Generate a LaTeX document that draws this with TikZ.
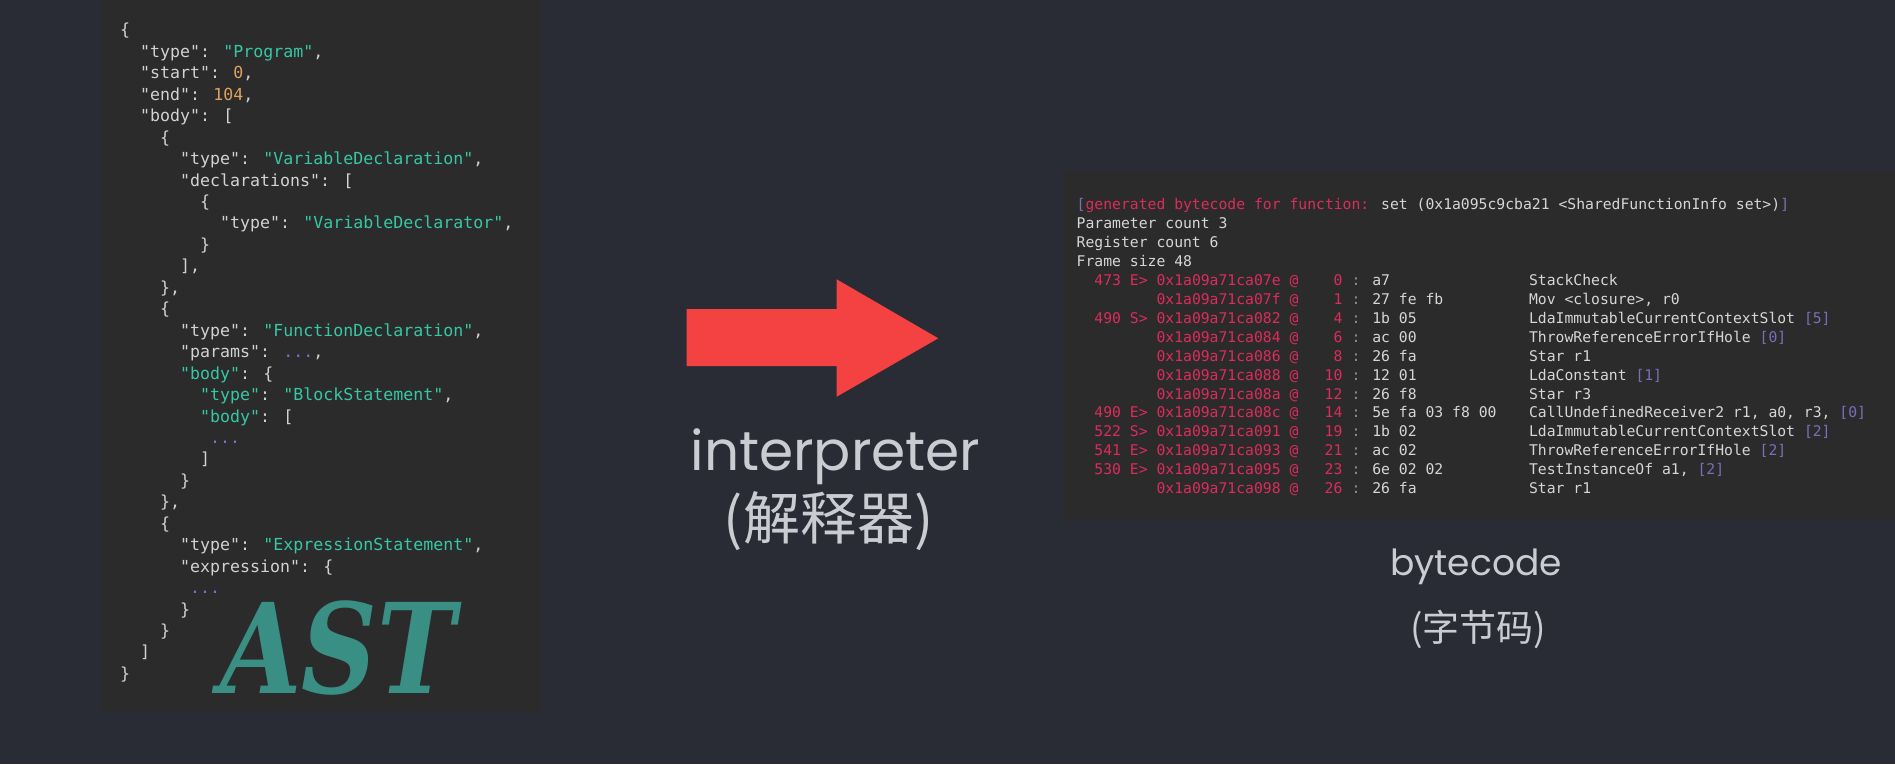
\documentclass[tikz,border=0pt]{standalone}
\usepackage{fontspec}
\usepackage{xcolor}
\usepackage{tikz}
\newfontfamily\codefont{DejaVu Sans Mono}
\newfontfamily\labelfont{Poppins}
\newfontfamily\cjkfont{Noto Sans CJK SC}
\newfontfamily\astfont{DejaVu Serif}
\definecolor{bg}{HTML}{292C35}
\definecolor{panel}{HTML}{2B2B2C}
\definecolor{keycol}{HTML}{D2D2D2}
\definecolor{strcol}{HTML}{36C8A4}
\definecolor{numcol}{HTML}{DDA35E}
\definecolor{dotcol}{HTML}{7E6FCF}
\definecolor{astcol}{HTML}{3A8F85}
\definecolor{bcred}{HTML}{DC2C5C}
\definecolor{bctext}{HTML}{D6D6D6}
\definecolor{bcop}{HTML}{7C6DB8}
\definecolor{bccolon}{HTML}{8A8FA6}
\definecolor{arrowred}{HTML}{F44242}
\definecolor{lblcol}{HTML}{C9CCD1}
\newcommand{\jstr}[1]{\textcolor{strcol}{#1}}
\newcommand{\jnum}[1]{\textcolor{numcol}{#1}}
\newcommand{\jdot}[1]{\textcolor{dotcol}{#1}}
\newcommand{\bred}[1]{\textcolor{bcred}{#1}}
\newcommand{\bop}[1]{\textcolor{bcop}{#1}}
\newcommand{\bcolon}{\textcolor{bccolon}{:}}
\tikzset{
  ast/.style={anchor=base west, inner sep=0pt, text=keycol, font=\codefont\fontsize{16.6}{20}\selectfont},
  bc/.style={anchor=base west, inner sep=0pt, text=bctext, font=\codefont\fontsize{14.73}{18}\selectfont},
  astbig/.style={anchor=base west, inner sep=0pt, text=astcol, font=\astfont\bfseries\itshape\fontsize{125}{125}\selectfont},
  lbl/.style={anchor=base, inner sep=0pt, text=lblcol},
  bigarrow/.style={fill=arrowred}
}
\begin{document}
\begin{tikzpicture}[x=1pt,y=-1pt]
\fill[bg] (0,0) rectangle (1895,764);
\useasboundingbox (0,0) rectangle (1895,764);
\fill[panel] (102,0) rectangle (541,712);
\fill[panel] (1063,170) rectangle (1895,520);
% AST
\foreach \row/\col/\txt in {1/0/{\{}, 2/2/{"type": \jstr{"Program"},}, 3/2/{"start": \jnum{0},},
  4/2/{"end": \jnum{104},}, 5/2/{"body": [}, 6/4/{\{}, 7/6/{"type": \jstr{"VariableDeclaration"},},
  8/6/{"declarations": [}, 9/8/{\{}, 10/10/{"type": \jstr{"VariableDeclarator"},}, 11/8/{\}},
  12/6/{],}, 13/4/{\},}, 14/4/{\{}, 15/6/{"type": \jstr{"FunctionDeclaration"},},
  16/6/{"params": \jdot{...},}, 17/6/{\jstr{"body"}: \{}, 18/8/{\jstr{"type"}: \jstr{"BlockStatement"},},
  19/8/{\jstr{"body"}: [}, 20/9/{\jdot{...}}, 21/8/{]}, 22/6/{\}}, 23/4/{\},}, 24/4/{\{},
  25/6/{"type": \jstr{"ExpressionStatement"},}, 26/6/{"expression": \{}, 27/7/{\jdot{...}},
  28/6/{\}}, 29/4/{\}}, 30/2/{]}, 31/0/{\}}}
  \node[ast] (ast\row) at ({120+10*\col},{35.9+21.45*(\row-1)}) {\txt};
\node[astbig] (astlbl) at (220,693) {\scalebox{0.84}[1]{AST}};
% interpreter
\fill[bigarrow] (686.7,309) -- (836.7,309) -- (836.7,279.3) -- (938.3,338.3)
  -- (836.7,396.7) -- (836.7,366) -- (686.7,366) -- cycle;
\node[lbl, font=\labelfont\fontsize{55}{60}\selectfont] (interp) at (835.5,470) {interpreter};
\node[lbl, font=\cjkfont\fontsize{57}{60}\selectfont] (interpcn) at (828.5,539) {(解释器)};
% bytecode
\node[bc] (bchead) at (1076.5,209.3) {\bop{[}\bred{generated bytecode for function:} set (0x1a095c9cba21 <SharedFunctionInfo set>)\bop{]}};
\node[bc] (bcparam) at (1076.5,228.3) {Parameter count 3};
\node[bc] (bcreg) at (1076.5,247.2) {Register count 6};
\node[bc] (bcframe) at (1076.5,266.2) {Frame size 48};
\foreach \k/\src/\adr/\off/\byt/\ins in {
  5/{473 E>}/{0x1a09a71ca07e}/0/{a7}/{StackCheck},
  6/{}/{0x1a09a71ca07f}/1/{27 fe fb}/{Mov <closure>, r0},
  7/{490 S>}/{0x1a09a71ca082}/4/{1b 05}/{LdaImmutableCurrentContextSlot \bop{[5]}},
  8/{}/{0x1a09a71ca084}/6/{ac 00}/{ThrowReferenceErrorIfHole \bop{[0]}},
  9/{}/{0x1a09a71ca086}/8/{26 fa}/{Star r1},
  10/{}/{0x1a09a71ca088}/10/{12 01}/{LdaConstant \bop{[1]}},
  11/{}/{0x1a09a71ca08a}/12/{26 f8}/{Star r3},
  12/{490 E>}/{0x1a09a71ca08c}/14/{5e fa 03 f8 00}/{CallUndefinedReceiver2 r1, a0, r3, \bop{[0]}},
  13/{522 S>}/{0x1a09a71ca091}/19/{1b 02}/{LdaImmutableCurrentContextSlot \bop{[2]}},
  14/{541 E>}/{0x1a09a71ca093}/21/{ac 02}/{ThrowReferenceErrorIfHole \bop{[2]}},
  15/{530 E>}/{0x1a09a71ca095}/23/{6e 02 02}/{TestInstanceOf a1, \bop{[2]}},
  16/{}/{0x1a09a71ca098}/26/{26 fa}/{Star r1}} {
  \node[bc, text=bcred] (src\k) at ({1076.5+8.87*2},{209.3+18.97*(\k-1)}) {\src};
  \node[bc, text=bcred] (adr\k) at ({1076.5+8.87*9},{209.3+18.97*(\k-1)}) {\adr{} @};
  \node[bc, text=bcred, anchor=base east] (off\k) at ({1076.5+8.87*30},{209.3+18.97*(\k-1)}) {\off};
  \node[bc] (byt\k) at ({1076.5+8.87*31},{209.3+18.97*(\k-1)}) {\bcolon{} \byt};
  \node[bc] (ins\k) at ({1076.5+8.87*51},{209.3+18.97*(\k-1)}) {\ins};
}
\node[lbl, font=\labelfont\fontsize{36}{40}\selectfont] (bclbl) at (1476,575) {bytecode};
\node[lbl, font=\cjkfont\fontsize{37}{40}\selectfont] (bclblcn) at (1478,641.6) {(字节码)};
\end{tikzpicture}
\end{document}
